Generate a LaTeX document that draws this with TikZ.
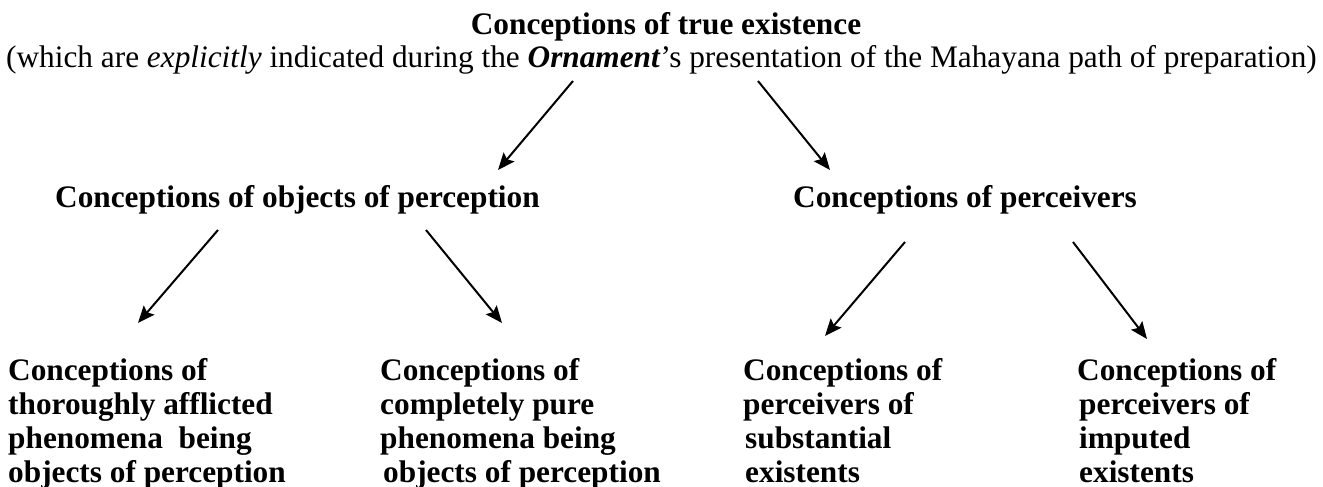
\documentclass[tikz,border=0pt]{standalone}
\usepackage{fontspec}
\setmainfont{Liberation Serif}
\usetikzlibrary{arrows.meta}
\begin{document}
\begin{tikzpicture}[x=1pt,y=-1pt,
  txt/.style={inner sep=0pt,font=\fontsize{31.3}{34}\selectfont},
  hd/.style={txt,font=\fontsize{31.3}{34}\selectfont\bfseries},
  arr/.style={line width=2pt,-{Stealth[length=17pt,width=14pt,inset=3pt]}}]
\useasboundingbox (0,0) rectangle (1323,487);
\node[hd,anchor=base] (title) at (666,35) {Conceptions of true existence};
\node[txt,anchor=base] (sub) at (661.5,68) {(which are \textit{explicitly} indicated during the \textbf{\textit{Ornament}}'s presentation of the Mahayana path of preparation)};
\node[hd,anchor=base west] (objs) at (55,207) {Conceptions of objects of perception};
\node[hd,anchor=base west] (perc) at (793,207) {Conceptions of perceivers};
\node[hd,anchor=base west] (b1) at (8,380) {\begin{tabular}[t]{@{}l@{}}Conceptions of\\ thoroughly afflicted\\ phenomena\ \ being\\ objects of perception\end{tabular}};
\node[hd,anchor=base west] (b2) at (380,380) {\begin{tabular}[t]{@{}l@{}}Conceptions of\\ completely pure\\ phenomena being\\ \hspace*{3pt}objects of perception\end{tabular}};
\node[hd,anchor=base west] (b3) at (743,380) {\begin{tabular}[t]{@{}l@{}}Conceptions of\\ perceivers of\\ \hspace*{2pt}substantial\\ \hspace*{2pt}existents\end{tabular}};
\node[hd,anchor=base west] (b4) at (1077,380) {\begin{tabular}[t]{@{}l@{}}Conceptions of\\ \hspace*{2pt}perceivers of\\ \hspace*{2pt}imputed\\ \hspace*{2pt}existents\end{tabular}};
\coordinate (a1s) at (573,81);  \coordinate (a1e) at (498,170);
\coordinate (a2s) at (758,81);  \coordinate (a2e) at (830,170);
\coordinate (a3s) at (218,230); \coordinate (a3e) at (138,323);
\coordinate (a4s) at (426,230); \coordinate (a4e) at (502,323);
\coordinate (a5s) at (905,242); \coordinate (a5e) at (825,336);
\coordinate (a6s) at (1073,242);\coordinate (a6e) at (1147,339);
\draw[arr] (a1s) -- (a1e);
\draw[arr] (a2s) -- (a2e);
\draw[arr] (a3s) -- (a3e);
\draw[arr] (a4s) -- (a4e);
\draw[arr] (a5s) -- (a5e);
\draw[arr] (a6s) -- (a6e);
\end{tikzpicture}
\end{document}
